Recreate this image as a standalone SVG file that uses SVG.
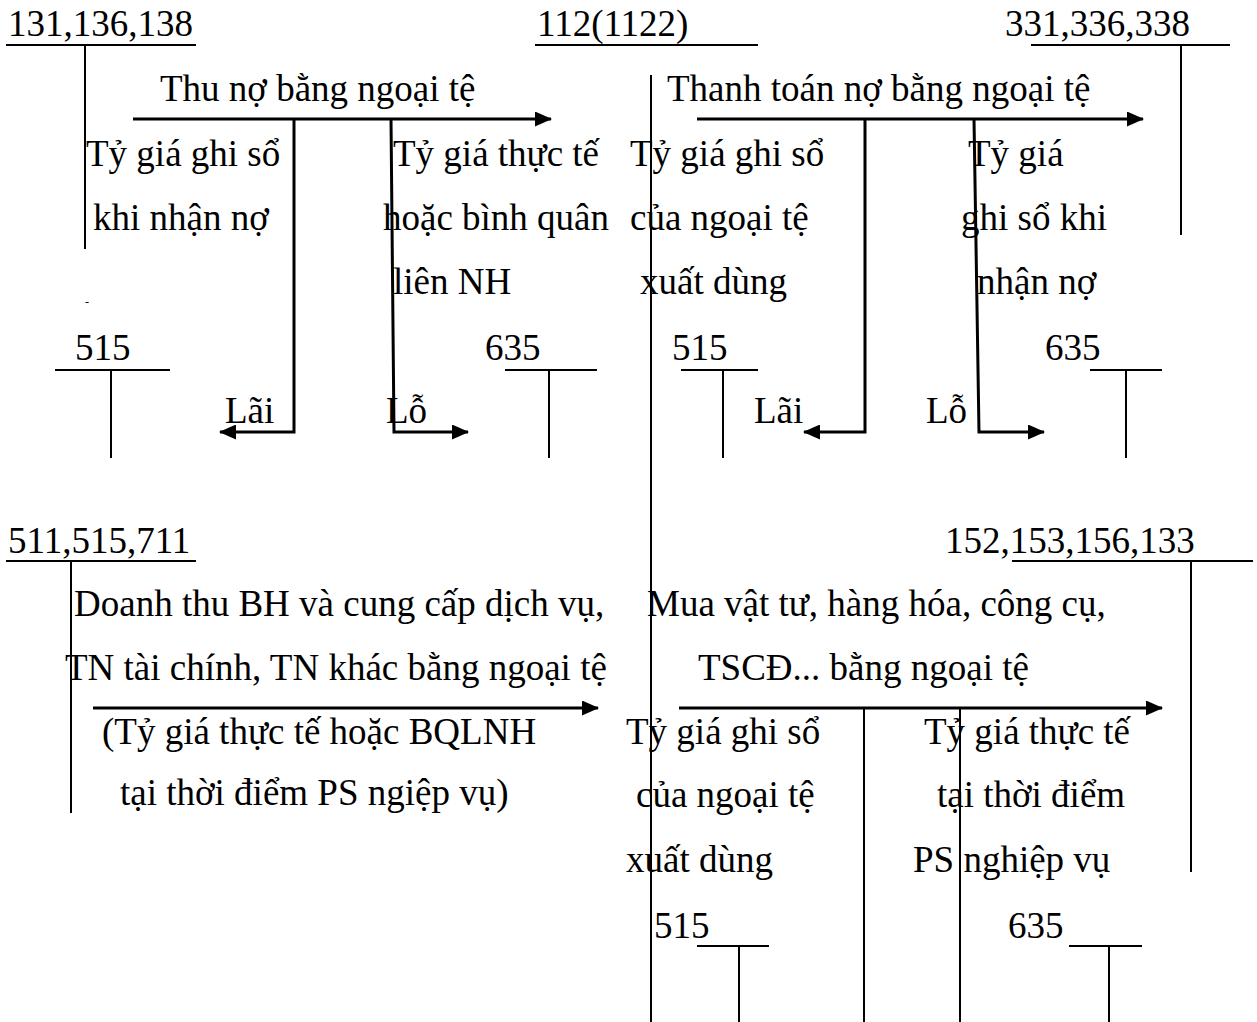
<svg xmlns="http://www.w3.org/2000/svg" width="1257" height="1022" viewBox="0 0 1257 1022">
<style>
text{font-family:"Liberation Serif","Times New Roman",serif;font-size:37px;fill:#000}
.t{stroke:#000;stroke-width:2;fill:none}
.ah{stroke:#000;stroke-width:3;fill:none;marker-end:url(#arr)}
</style>
<defs>
<marker id="arr" markerUnits="userSpaceOnUse" markerWidth="17" markerHeight="15" refX="16" refY="7.5" orient="auto">
<path d="M0,0 L17,7.5 L0,15 Z" fill="#000"/>
</marker>
</defs>
<rect width="1257" height="1022" fill="#fff"/>

<g id="acc131">
<text x="8" y="36">131,136,138</text>
<line class="t" x1="6" y1="45" x2="196" y2="45"/>
<line class="t" x1="85" y1="45" x2="85" y2="249"/>
<text x="85" y="306" style="font-size:12px">-</text>
</g>
<g id="acc112">
<text x="537" y="36">112(1122)</text>
<line class="t" x1="535" y1="45" x2="758" y2="45"/>
<line class="t" x1="651" y1="75" x2="651" y2="1022"/>
</g>
<g id="acc331">
<text x="1005" y="36">331,336,338</text>
<line class="t" x1="1031" y1="45" x2="1230" y2="45"/>
<line class="t" x1="1181" y1="45" x2="1181" y2="235"/>
</g>
<g id="acc515a">
<text x="75" y="360">515</text>
<line class="t" x1="55" y1="370" x2="170" y2="370"/>
<line class="t" x1="111" y1="370" x2="111" y2="458"/>
</g>
<g id="acc635a">
<text x="485" y="360">635</text>
<line class="t" x1="505" y1="370" x2="597" y2="370"/>
<line class="t" x1="549" y1="370" x2="549" y2="458"/>
</g>
<g id="acc515b">
<text x="672" y="360">515</text>
<line class="t" x1="681" y1="370" x2="758" y2="370"/>
<line class="t" x1="723" y1="370" x2="723" y2="458"/>
</g>
<g id="acc635b">
<text x="1045" y="360">635</text>
<line class="t" x1="1090" y1="370" x2="1162" y2="370"/>
<line class="t" x1="1126" y1="370" x2="1126" y2="458"/>
</g>
<g id="acc511">
<text x="8" y="553">511,515,711</text>
<line class="t" x1="6" y1="561" x2="196" y2="561"/>
<line class="t" x1="71" y1="561" x2="71" y2="813"/>
</g>
<g id="acc152">
<text x="945" y="553">152,153,156,133</text>
<line class="t" x1="1012" y1="561" x2="1253" y2="561"/>
<line class="t" x1="1191" y1="561" x2="1191" y2="872"/>
</g>
<g id="acc515c">
<text x="654" y="938">515</text>
<line class="t" x1="697" y1="946" x2="769" y2="946"/>
<line class="t" x1="739" y1="946" x2="739" y2="1022"/>
</g>
<g id="acc635c">
<text x="1008" y="938">635</text>
<line class="t" x1="1069" y1="946" x2="1142" y2="946"/>
<line class="t" x1="1109" y1="946" x2="1109" y2="1022"/>
</g>

<g id="connectors">
<line class="ah" x1="133" y1="119" x2="551" y2="119"/>
<polyline class="ah" points="294,119 294,432 220,432"/>
<polyline class="ah" points="391,119 394,432 468,432"/>
<line class="ah" x1="697" y1="119" x2="1143" y2="119"/>
<polyline class="ah" points="865,119 865,432 804,432"/>
<polyline class="ah" points="974,119 979,432 1044,432"/>
<line class="ah" x1="93" y1="708" x2="598" y2="708"/>
<line class="ah" x1="679" y1="708" x2="1162" y2="708"/>
<line class="t" x1="864" y1="708" x2="864" y2="1022"/>
<line class="t" x1="960" y1="708" x2="960" y2="1022"/>
</g>

<g id="labels">
<text x="160" y="101">Thu nợ bằng ngoại tệ</text>
<text x="86" y="166">Tỷ giá ghi sổ</text>
<text x="93" y="230">khi nhận nợ</text>
<text x="393" y="166">Tỷ giá thực tế</text>
<text x="383" y="230">hoặc bình quân</text>
<text x="393" y="294">liên NH</text>
<text x="225" y="423">Lãi</text>
<text x="386" y="423">Lỗ</text>

<text x="667" y="101">Thanh toán nợ bằng ngoại tệ</text>
<text x="630" y="166">Tỷ giá ghi sổ</text>
<text x="630" y="230">của ngoại tệ</text>
<text x="640" y="294">xuất dùng</text>
<text x="968" y="166">Tỷ giá</text>
<text x="961" y="230">ghi sổ khi</text>
<text x="977" y="294">nhận nợ</text>
<text x="754" y="423">Lãi</text>
<text x="926" y="423">Lỗ</text>

<text x="74" y="616">Doanh thu BH và cung cấp dịch vụ,</text>
<text x="65" y="680">TN tài chính, TN khác bằng ngoại tệ</text>
<text x="102" y="744">(Tỷ giá thực tế hoặc BQLNH</text>
<text x="120" y="805">tại thời điểm PS ngiệp vụ)</text>

<text x="647" y="616">Mua vật tư, hàng hóa, công cụ,</text>
<text x="698" y="680">TSCĐ... bằng ngoại tệ</text>
<text x="626" y="744">Tỷ giá ghi sổ</text>
<text x="636" y="807">của ngoại tệ</text>
<text x="626" y="872">xuất dùng</text>
<text x="924" y="744">Tỷ giá thực tế</text>
<text x="937" y="807">tại thời điểm</text>
<text x="913" y="872">PS nghiệp vụ</text>
</g>
</svg>
